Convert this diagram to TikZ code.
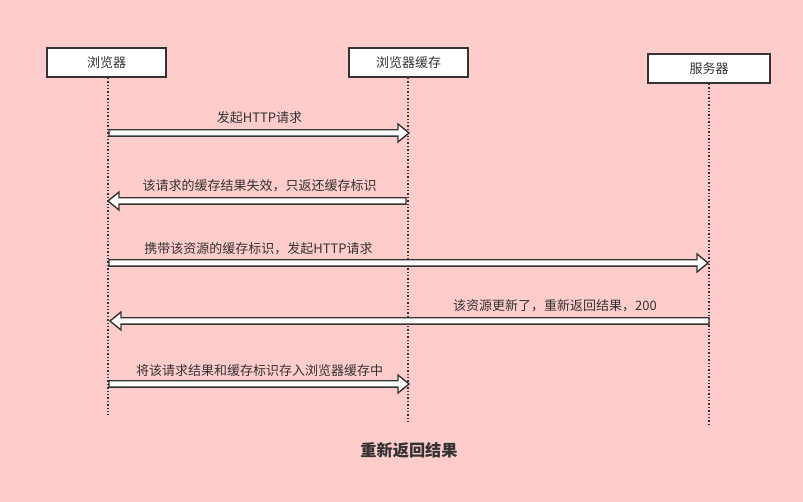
\documentclass[tikz,border=0pt]{standalone}
\usepackage{fontspec}
\setmainfont{Noto Sans CJK SC}
\usetikzlibrary{calc}
\definecolor{bgpink}{HTML}{FFCCCC}
\definecolor{ink}{HTML}{333333}
\tikzset{
  actor/.style={draw=ink, line width=1.6pt, fill=white, minimum height=29pt, inner sep=0pt, font=\fontsize{13}{15}\selectfont, text=ink},
  lifeline/.style={draw=ink, line width=1.4pt, dotted},
  hollow/.style={draw=ink, line width=1.4pt, fill=white, line join=miter},
  msg/.style={font=\fontsize{13}{15}\selectfont, text=ink, inner sep=0pt, anchor=base},
}
\newcommand{\hollowarrow}[2]{%
  \draw[hollow] let \p1=(#1), \p2=(#2), \n1={sign(\x2-\x1)} in
   (\x1,\y1+3.2pt) -- (\x2-\n1*12pt,\y1+3.2pt) -- (\x2-\n1*12pt,\y1+9pt) -- (\x2-\n1*1pt,\y1)
   -- (\x2-\n1*12pt,\y1-9pt) -- (\x2-\n1*12pt,\y1-3.2pt) -- (\x1,\y1-3.2pt) -- cycle;}
\begin{document}
\begin{tikzpicture}[x=1pt,y=-1pt]
\fill[bgpink] (0,0) rectangle (803,502);
\useasboundingbox (0,0) rectangle (803,502);
% actors
\node[actor, minimum width=119pt] (b) at (106.5,62.5) {浏览器};
\node[actor, minimum width=119pt] (c) at (408.5,62.5) {浏览器缓存};
\node[actor, minimum width=122pt] (s) at (709,68.5) {服务器};
% lifeline ends
\coordinate (bend) at (108,415);
\coordinate (cend) at (408,422);
\coordinate (send) at (709,425);
\draw[lifeline] (b.south -| bend) -- (bend);
\draw[lifeline] (c.south -| cend) -- (cend);
\draw[lifeline] (s.south -| send) -- (send);
% message anchors
\coordinate (m1a) at (109,133); \coordinate (m1b) at (410,133);
\coordinate (m2a) at (406,201); \coordinate (m2b) at (107,201);
\coordinate (m3a) at (109,263); \coordinate (m3b) at (709,263);
\coordinate (m4a) at (709,321); \coordinate (m4b) at (109,321);
\coordinate (m5a) at (109,384); \coordinate (m5b) at (410,384);
\hollowarrow{m1a}{m1b}
\hollowarrow{m2a}{m2b}
\hollowarrow{m3a}{m3b}
\hollowarrow{m4a}{m4b}
\hollowarrow{m5a}{m5b}
% labels
\node[msg] (l1) at (259.5,123) {发起HTTP请求};
\node[msg] (l2) at (259.5,191) {该请求的缓存结果失效，只返还缓存标识};
\node[msg] (l3) at (258.5,254) {携带该资源的缓存标识，发起HTTP请求};
\node[msg] (l4) at (555,311) {该资源更新了，重新返回结果，200};
\node[msg] (l5) at (259.5,376) {将该请求结果和缓存标识存入浏览器缓存中};
% title
\node[font=\fontsize{16.2}{19}\selectfont\bfseries, text=ink, inner sep=0pt] (t) at (409,450) {重新返回结果};
\end{tikzpicture}
\end{document}
